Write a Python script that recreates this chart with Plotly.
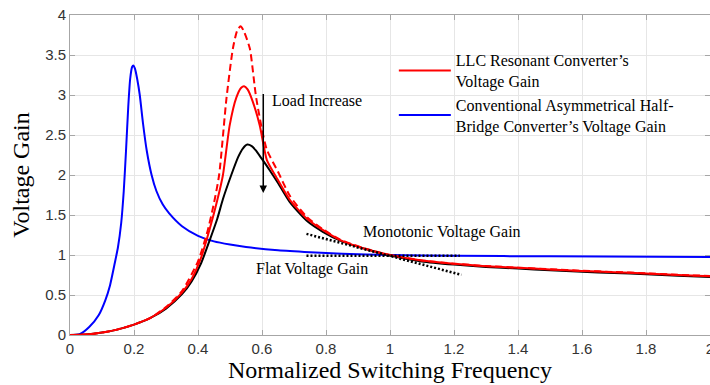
import plotly.graph_objects as go

# ---------------- data ----------------
blue_x = [0, 0.03, 0.06, 0.09, 0.11, 0.125, 0.14, 0.15, 0.16, 0.168, 0.175, 0.182,
          0.188, 0.194, 0.198, 0.203, 0.21, 0.218, 0.228, 0.24, 0.255, 0.27, 0.29,
          0.31, 0.35, 0.40, 0.45, 0.50, 0.55, 0.65, 0.75, 0.85, 1.0, 1.2, 1.5, 2.0]
blue_y = [0, 0.01, 0.10, 0.25, 0.43, 0.62, 0.90, 1.10, 1.40, 1.80, 2.30, 2.85,
          3.20, 3.35, 3.37, 3.33, 3.20, 3.00, 2.65, 2.30, 2.00, 1.80, 1.63,
          1.52, 1.36, 1.24, 1.17, 1.13, 1.10, 1.06, 1.035, 1.015, 1.0, 0.99, 0.983, 0.975]

red_x = [0, 0.05, 0.1, 0.15, 0.2, 0.25, 0.3, 0.35, 0.38, 0.41, 0.437, 0.46, 0.478,
         0.499, 0.52, 0.535, 0.544, 0.555, 0.57, 0.593, 0.615, 0.645, 0.687, 0.739,
         0.791, 0.843, 0.916, 1.0, 1.1, 1.2, 1.3, 1.4, 1.5, 1.6, 1.7, 1.8, 1.9, 2.0]
red_y = [0, 0.005, 0.03, 0.07, 0.13, 0.21, 0.34, 0.53, 0.70, 0.97, 1.33, 1.68, 2.00,
         2.62, 2.97, 3.09, 3.11, 3.07, 2.93, 2.62, 2.19, 1.97, 1.69, 1.46,
         1.31, 1.19, 1.085, 1.0, 0.93, 0.89, 0.86, 0.84, 0.82, 0.80, 0.785, 0.77, 0.75, 0.735]

dash_x = [0, 0.05, 0.1, 0.15, 0.2, 0.25, 0.3, 0.35, 0.40, 0.43, 0.45, 0.466, 0.489,
          0.509, 0.522, 0.533, 0.543, 0.562, 0.582, 0.614, 0.65, 0.687, 0.739, 0.791,
          0.843, 0.916, 1.0, 1.1, 1.2, 1.3, 1.4, 1.5, 1.6, 1.7, 1.8, 1.9, 2.0]
dash_y = [0, 0.005, 0.03, 0.07, 0.13, 0.21, 0.35, 0.55, 0.92, 1.30, 1.65, 2.00, 2.96,
          3.58, 3.80, 3.86, 3.80, 3.58, 2.96, 2.33, 2.04, 1.74, 1.48, 1.32,
          1.195, 1.088, 1.0, 0.932, 0.892, 0.862, 0.842, 0.823, 0.803, 0.788, 0.772, 0.752, 0.738]

black_x = [0, 0.05, 0.1, 0.15, 0.2, 0.25, 0.3, 0.35, 0.38, 0.41, 0.437, 0.46, 0.478,
           0.504, 0.525, 0.54, 0.554, 0.568, 0.58, 0.598, 0.624, 0.65, 0.687, 0.739,
           0.79, 0.85, 0.92, 1.0, 1.1, 1.2, 1.3, 1.4, 1.5, 1.6, 1.7, 1.8, 1.9, 2.0]
black_y = [0, 0.005, 0.03, 0.07, 0.13, 0.21, 0.33, 0.51, 0.67, 0.90, 1.19, 1.45, 1.70,
           2.00, 2.22, 2.33, 2.38, 2.36, 2.31, 2.21, 2.06, 1.90, 1.66, 1.43,
           1.29, 1.17, 1.08, 0.995, 0.92, 0.88, 0.85, 0.83, 0.81, 0.79, 0.775, 0.76, 0.742, 0.725]

mono_x = [0.739, 1.223]
mono_y = [1.264, 0.752]
flat_x = [0.739, 1.218]
flat_y = [0.99, 0.99]

x_ticks = [0, 0.2, 0.4, 0.6, 0.8, 1, 1.2, 1.4, 1.6, 1.8, 2]
x_tick_text = ["0", "0.2", "0.4", "0.6", "0.8", "1", "1.2", "1.4", "1.6", "1.8", "2"]
y_ticks = [0, 0.5, 1, 1.5, 2, 2.5, 3, 3.5, 4]
y_tick_text = ["0", "0.5", "1", "1.5", "2", "2.5", "3", "3.5", "4"]

name_llc = "LLC Resonant Converter’s<br>Voltage Gain"
name_ahb = "Conventional Asymmetrical Half-<br>Bridge Converter’s Voltage Gain"

SERIF = "Liberation Serif, Times New Roman, serif"
SANS = "Liberation Sans, Arial, sans-serif"

fig = go.Figure()
fig.add_trace(go.Scatter(x=blue_x, y=blue_y, mode="lines", name=name_ahb,
                         line=dict(color="#0000ff", width=2, shape="spline", smoothing=0.6),
                         legendrank=2))
fig.add_trace(go.Scatter(x=black_x, y=black_y, mode="lines", showlegend=False,
                         line=dict(color="#000000", width=2, shape="spline", smoothing=0.6)))
fig.add_trace(go.Scatter(x=dash_x, y=dash_y, mode="lines", showlegend=False,
                         line=dict(color="#ff0000", width=2, dash="7px,4px", shape="spline", smoothing=0.6)))
fig.add_trace(go.Scatter(x=red_x, y=red_y, mode="lines", name=name_llc,
                         line=dict(color="#ff0000", width=2, shape="spline", smoothing=0.6),
                         legendrank=1))
fig.add_trace(go.Scatter(x=mono_x, y=mono_y, mode="lines", showlegend=False,
                         line=dict(color="#000000", width=2.5, dash="2px,2px")))
fig.add_trace(go.Scatter(x=flat_x, y=flat_y, mode="lines", showlegend=False,
                         line=dict(color="#000000", width=2.5, dash="2px,2px")))

axis_common = dict(showgrid=True, gridcolor="#e6e6e6", gridwidth=1, zeroline=False,
                   showline=True, linecolor="#a6a6a6", linewidth=1, mirror="ticks",
                   ticks="inside", ticklen=5, tickcolor="#a6a6a6",
                   ticklabeloverflow="allow", automargin=False,
                   tickfont=dict(family=SANS, size=15, color="#333333"))

fig.update_xaxes(range=[0, 2], tickvals=x_ticks, ticktext=x_tick_text,
                 title=dict(text="Normalized Switching Frequency", standoff=2,
                            font=dict(family=SERIF, size=24, color="#000000")),
                 **axis_common)
fig.update_yaxes(range=[0, 4], tickvals=y_ticks, ticktext=y_tick_text,
                 title=dict(text="Voltage Gain", standoff=8,
                            font=dict(family=SERIF, size=24, color="#000000")),
                 **axis_common)

fig.add_annotation(x=0.604, y=1.775, ax=0.604, ay=3.03, xref="x", yref="y",
                   axref="x", ayref="y", text="", showarrow=True,
                   arrowhead=2, arrowsize=1, arrowwidth=1.5, arrowcolor="#000000")
fig.add_annotation(x=0.771, y=2.93, text="Load Increase", showarrow=False,
                   font=dict(family=SERIF, size=16, color="#000000"))
fig.add_annotation(x=1.162, y=1.285, text="Monotonic Voltage Gain", showarrow=False,
                   font=dict(family=SERIF, size=16, color="#000000"))
fig.add_annotation(x=0.755, y=0.823, text="Flat Voltage Gain", showarrow=False,
                   font=dict(family=SERIF, size=16, color="#000000"))

fig.update_layout(
    width=710, height=385,
    margin=dict(l=70, r=0, t=15, b=50),
    paper_bgcolor="white", plot_bgcolor="white",
    legend=dict(x=0.506, y=0.912, xanchor="left", yanchor="top",
                bgcolor="rgba(0,0,0,0)", borderwidth=0,
                font=dict(family=SERIF, size=16, color="#000000"),
                itemwidth=52, tracegroupgap=0),
)

fig.write_html("out.html")
